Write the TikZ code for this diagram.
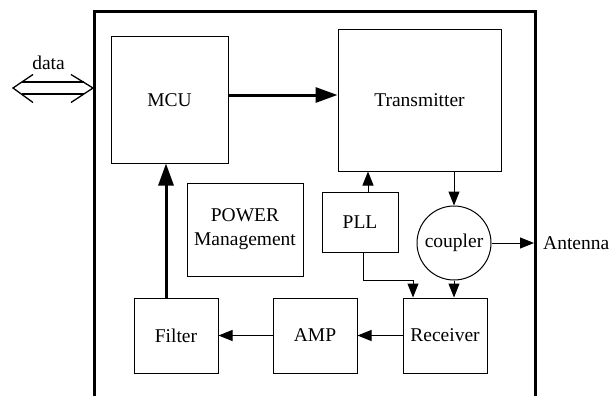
\documentclass[tikz,border=0pt]{standalone}
\usepackage{fontspec}
\setmainfont{Liberation Serif}
\usetikzlibrary{arrows.meta}

\tikzset{
  blk/.style={draw, line width=1pt, inner sep=0pt, align=center},
  arr/.style={line width=1pt, -{Triangle[length=14pt,width=11pt]}},
  heavyarr/.style={line width=3pt, -{Triangle[length=22pt,width=15pt]}},
  frame/.style={line width=3pt, line join=miter},
  port/.style={line width=1.3pt, line join=miter},
}

\begin{document}
\begin{tikzpicture}[x=1pt, y=-1pt, font=\fontsize{19.5}{24}\selectfont]
  \useasboundingbox (0,0) rectangle (612,396);

  % enclosure, open at the bottom
  \draw[frame] (94,396) -- (94,12) -- (535,12) -- (535,396);

  % blocks
  \node[blk, minimum width=117pt, minimum height=126pt] (mcu) at (169.5,100) {MCU};
  \node[blk, minimum width=163pt, minimum height=141pt] (tx)  at (419.5,100.5) {Transmitter};
  \node[blk, minimum width=116pt, minimum height=93pt]  (pwr) at (245,229.5) {POWER\\Management};
  \node[blk, minimum width=76pt,  minimum height=60pt]  (pll) at (360,222) {PLL};
  \node[blk, circle, minimum size=74pt] (cpl) at (454,243) {coupler};
  \node[blk, minimum width=84pt, minimum height=75pt] (rx)  at (445,335.5) {Receiver};
  \node[blk, minimum width=84pt, minimum height=75pt] (amp) at (315,335.5) {AMP};
  \node[blk, minimum width=84pt, minimum height=75pt] (flt) at (176,335.5) {Filter};

  % labels outside the enclosure
  \node[inner sep=0pt] (dlab) at (48.5,63) {data};
  \node[inner sep=0pt, anchor=west] (ant) at (543,243) {Antenna};
  \coordinate (antend) at (534,243);

  % bidirectional data port
  \coordinate (dL) at (13,88);
  \coordinate (dR) at (93,88);
  \draw[port] ([shift={(20,-13.5)}]dL) -- (dL) -- ([shift={(20,14.5)}]dL);
  \draw[port] ([shift={(-22,-13.5)}]dR) -- (dR) -- ([shift={(-22,14.5)}]dR);
  \draw[port] (22,82) -- (84,82);
  \draw[port] (22,94) -- (84,94);

  % signal paths
  \draw[heavyarr] ([yshift=5pt]mcu.east) -- ([yshift=5pt]mcu.east -| tx.west);
  \draw[heavyarr] ([xshift=-10pt]flt.north) -- ([xshift=-10pt]flt.north |- mcu.south);
  \draw[arr] ([xshift=8pt]pll.north) -- ([xshift=8pt]pll.north |- tx.south);
  \draw[arr] (cpl.north |- tx.south) -- (cpl.north);
  \draw[arr] (cpl.east) -- (antend);
  \draw[arr] (cpl.south) -- (cpl.south |- rx.north);
  \draw[arr] ([xshift=3pt]pll.south) -- ++(0,28) -| ([xshift=-32pt]rx.north);
  \draw[arr] (rx.west) -- (amp.east);
  \draw[arr] (amp.west) -- (flt.east);
\end{tikzpicture}
\end{document}
